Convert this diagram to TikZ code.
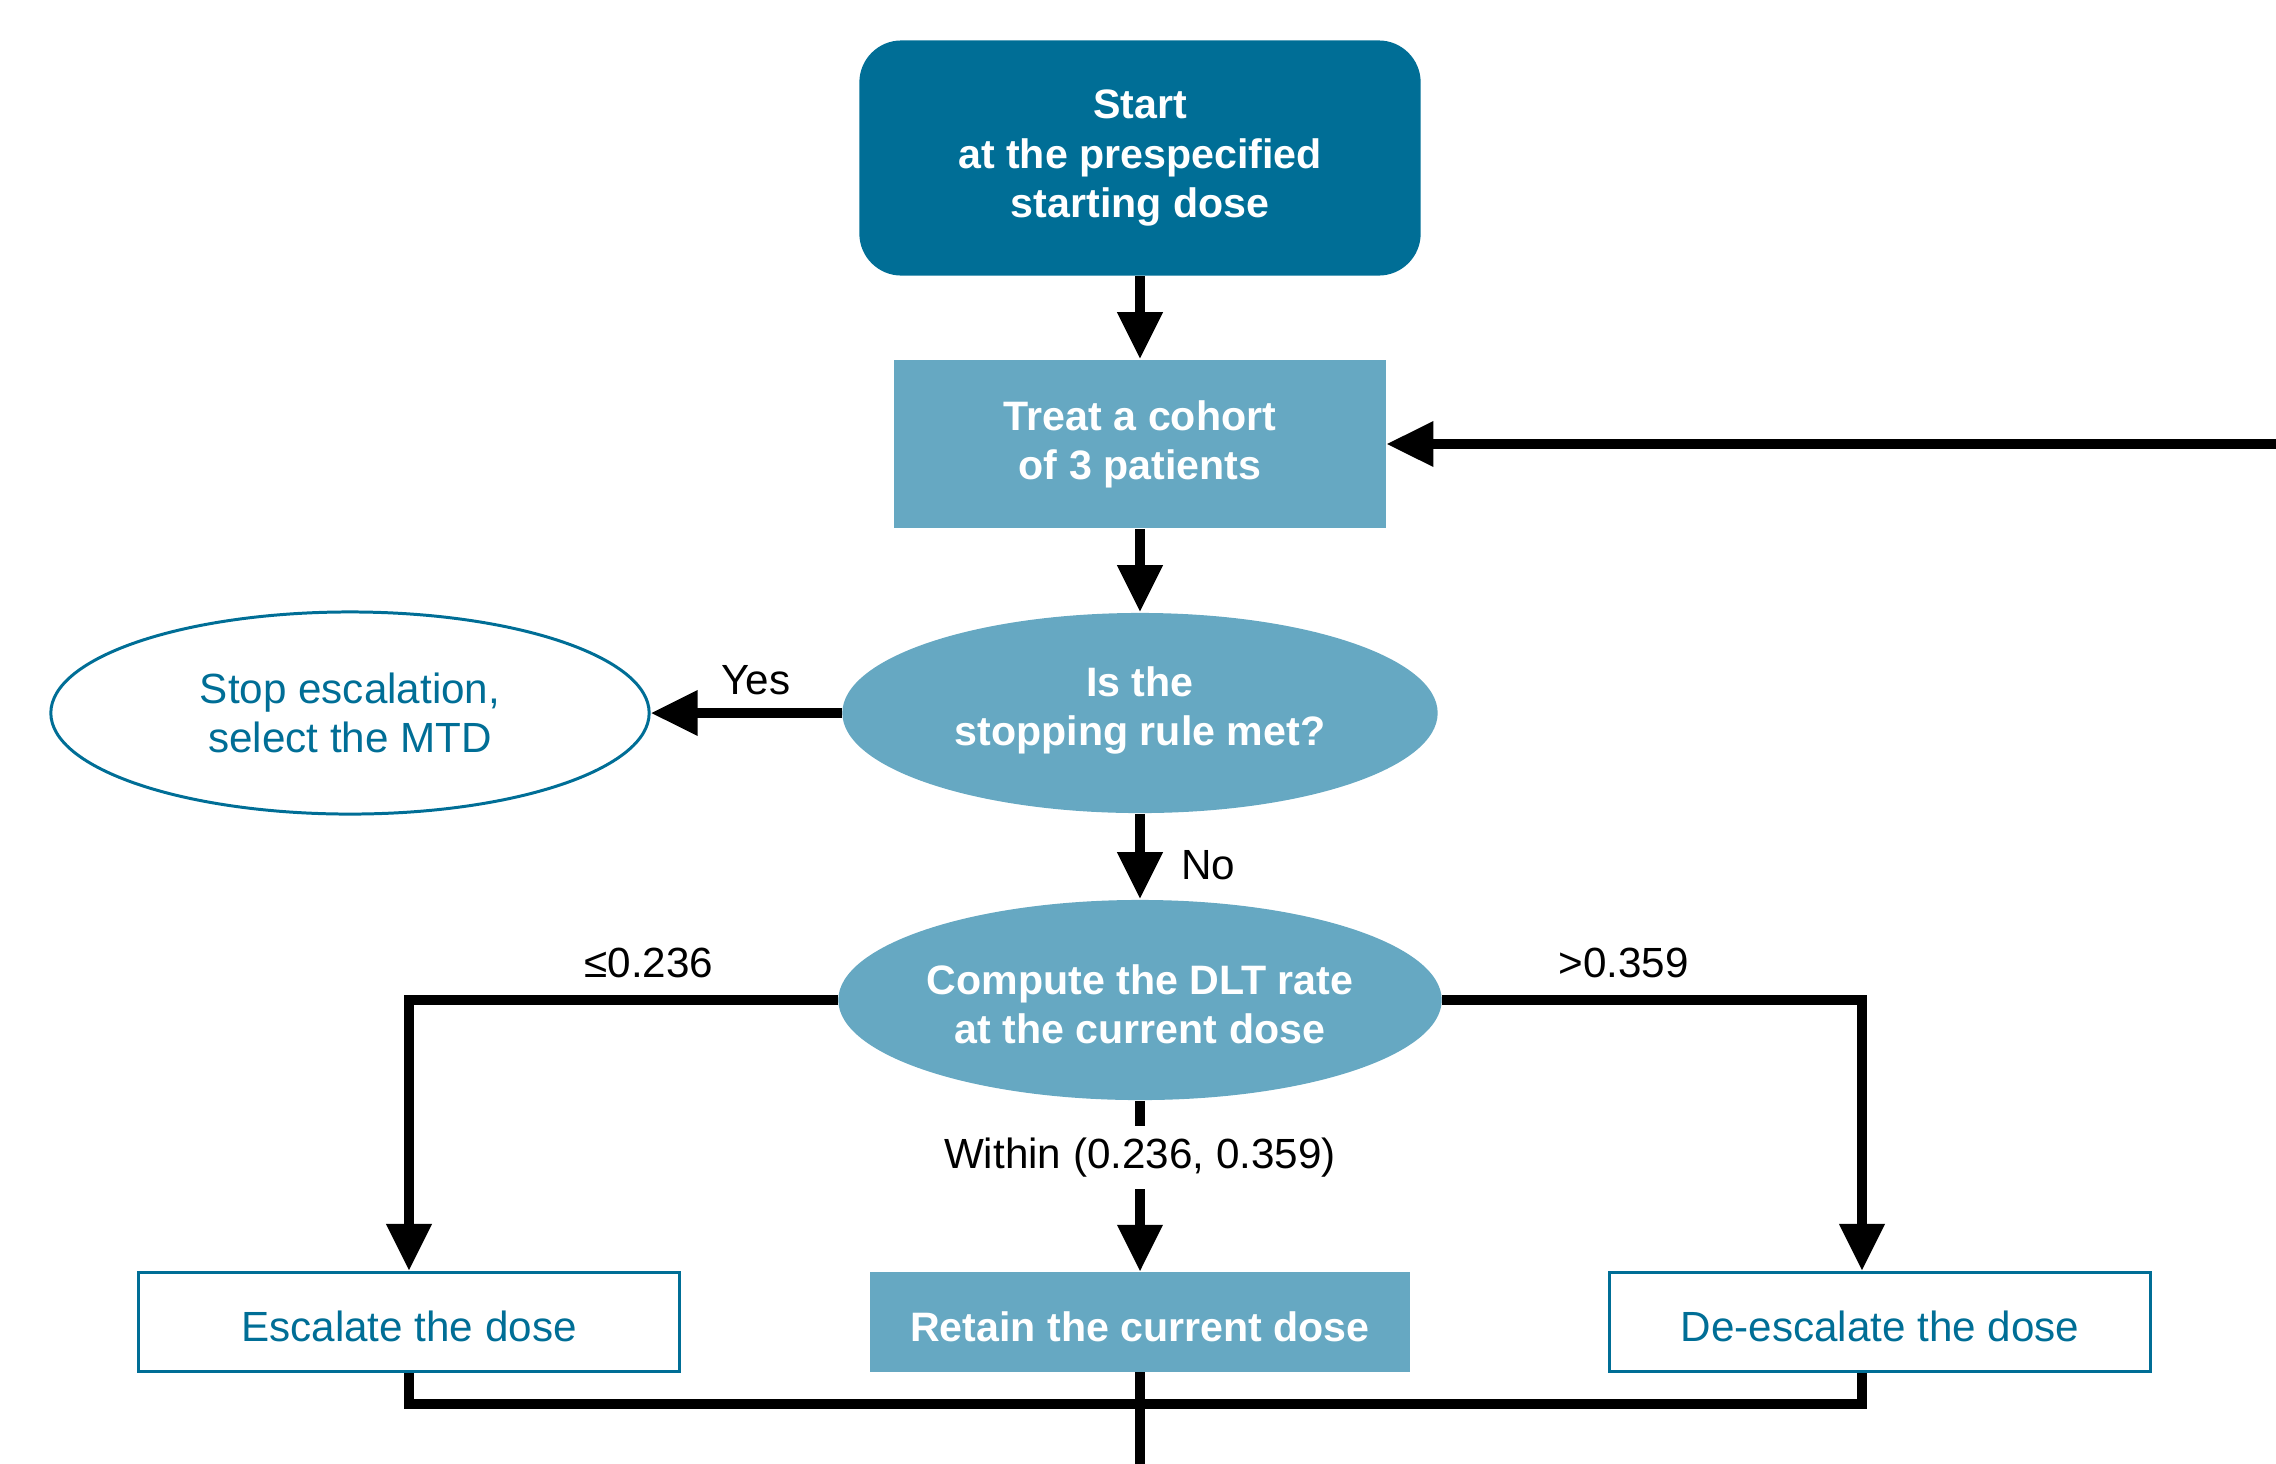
\documentclass[tikz,border=0pt]{standalone}
\usepackage{fontspec}
\setmainfont{Liberation Sans}
\usepackage{tikz}
\usetikzlibrary{arrows.meta,shapes.geometric}
\definecolor{darkteal}{RGB}{0,110,150}
\definecolor{lightteal}{RGB}{102,168,194}
\tikzstyle{boldtext}=[text=white, align=center, font=\fontsize{11.7}{14}\selectfont\bfseries]
\tikzstyle{startbox}=[rectangle, rounded corners=0.42cm, fill=darkteal, boldtext, minimum width=5.61cm, minimum height=2.35cm]
\tikzstyle{fillbox}=[rectangle, fill=lightteal, boldtext]
\tikzstyle{decision}=[ellipse, fill=lightteal, boldtext, inner sep=0pt, minimum width=5.95cm, minimum height=2.0cm]
\tikzstyle{outbox}=[rectangle, draw=darkteal, line width=0.85pt, text=darkteal, font=\fontsize{12}{14}\selectfont, text height=11pt, text depth=0pt, minimum width=5.4cm, minimum height=0.99cm]
\tikzstyle{outoval}=[ellipse, draw=darkteal, line width=0.85pt, text=darkteal, align=center, font=\fontsize{12}{14}\selectfont, minimum width=5.98cm, minimum height=2.02cm]
\tikzstyle{link}=[line width=0.1cm]
\tikzstyle{flow}=[link, -{Triangle[width=0.43cm,length=0.47cm]}]
\tikzstyle{lbl}=[font=\fontsize{12}{14}\selectfont]
\newcommand{\lowstrut}{\rule{0pt}{11pt}}

\begin{document}
\begin{tikzpicture}[x=0.01cm, y=-0.01cm]
    \clip (0,0) rectangle (2276,1463);
    \node[startbox] (start) at (1140,158) {Start\\at the prespecified\\starting dose};
    \node[fillbox, minimum width=4.91cm, minimum height=1.68cm] (treat) at (1140,444) {Treat a cohort\\of 3 patients};
    \node[decision, text depth=4pt] (stoprule) at (1140,713) {Is the\\stopping rule met?};
    \node[outoval] (mtd) at (350,713) {Stop escalation,\\select the MTD};
    \node[decision] (dlt) at (1140,1000) {\lowstrut Compute the DLT rate\\at the current dose};
    \node[outbox] (escalate) at (409,1322) {Escalate the dose};
    \node[fillbox, text height=11pt, text depth=0pt, minimum width=5.39cm, minimum height=0.99cm] (retain) at (1140,1322) {Retain the current dose};
    \node[outbox] (deescalate) at (1880,1322) {De-escalate the dose};
    \coordinate (rbend) at (1862,1000);
    \coordinate (lowright) at (1862,1404);
    \coordinate (loopin) at (2300,444);
    \coordinate (loopout) at (1140,1480);
    \path[flow]
    (start) edge (treat)
    (treat) edge (stoprule)
    (stoprule) edge node[lbl, pos=0.6, right=7pt] {No} (dlt)
    (stoprule) edge node[lbl, pos=0.45, above=0.5pt] {Yes} (mtd)
    (dlt) edge node[lbl, pos=0.33, fill=white] {Within (0.236, 0.359)} (retain)
    (loopin) edge (treat);
    \draw[flow] (dlt.west) -| node[lbl, pos=0.22, above=1.5pt] {≤0.236} (escalate.north);
    \draw[flow] (dlt.east) -| node[lbl, pos=0.216, above=1.5pt] {>0.359} (deescalate.north -| rbend);
    \draw[link] (escalate.south) |- (lowright) -- (deescalate.south -| rbend);
    \draw[link] (retain) -- (loopout);
\end{tikzpicture}
\end{document}
